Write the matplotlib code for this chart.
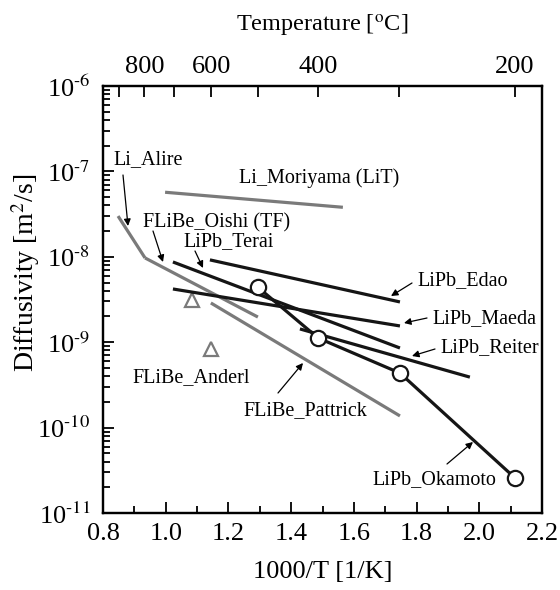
import matplotlib
matplotlib.use("Agg")
import matplotlib.pyplot as plt
from matplotlib.ticker import LogLocator, NullFormatter, MultipleLocator

plt.rcParams['font.family'] = ['Liberation Serif', 'DejaVu Serif']
plt.rcParams['mathtext.fontset'] = 'stix'

# ---- data (x = 1000/T [1/K], y = diffusivity [m2/s]) ----
alire_x = [0.848, 0.934]
alire_y = [3.0e-8, 9.7e-9]
oishi_x = [0.934, 1.294]
oishi_y = [9.7e-9, 1.97e-9]
moriyama_x = [0.998, 1.565]
moriyama_y = [5.7e-8, 3.8e-8]
pattrick_x = [1.144, 1.747]
pattrick_y = [2.88e-9, 1.37e-10]
anderl_x = [1.084, 1.144]
anderl_y = [3.1e-9, 8.3e-10]
edao_x = [1.141, 1.747]
edao_y = [9.2e-9, 2.96e-9]
terai_x = [1.023, 1.747]
terai_y = [8.7e-9, 8.55e-10]
maeda_x = [1.023, 1.747]
maeda_y = [4.2e-9, 1.55e-9]
reiter_x = [1.428, 1.970]
reiter_y = [1.43e-9, 3.9e-10]
okamoto_x = [1.294, 1.486, 1.747, 2.114]
okamoto_y = [4.4e-9, 1.12e-9, 4.35e-10, 2.57e-11]

x_ticks = [0.8, 1.0, 1.2, 1.4, 1.6, 1.8, 2.0, 2.2]
y_exponents = [-11, -10, -9, -8, -7, -6]
temps_major = [800, 600, 400, 200]
temps_minor = [900, 700, 500, 300]

BLACK = '#151515'
GRAY = '#7a7a7a'
W, H = 560, 590

fig = plt.figure(figsize=(W / 100, H / 100), dpi=100)
ax = fig.add_axes([103 / W, 1 - 513 / H, (542 - 103) / W, (513 - 86) / H])

lw = 2.3
for xs, ys in [(alire_x, alire_y), (oishi_x, oishi_y),
               (moriyama_x, moriyama_y), (pattrick_x, pattrick_y)]:
    ax.plot(xs, ys, color=GRAY, lw=lw, solid_capstyle='butt')
ax.plot(anderl_x, anderl_y, ls='none', marker='^', ms=10, mfc='white',
        mec=GRAY, mew=1.6)
for xs, ys in [(edao_x, edao_y), (terai_x, terai_y), (maeda_x, maeda_y),
               (reiter_x, reiter_y)]:
    ax.plot(xs, ys, color=BLACK, lw=lw, solid_capstyle='butt')
ax.plot(okamoto_x, okamoto_y, color=BLACK, lw=lw, marker='o', ms=11,
        mfc='white', mec=BLACK, mew=1.6, zorder=5)

ax.set_yscale('log')
ax.set_xlim(0.8, 2.2)
ax.set_ylim(1e-11, 1e-6)

ax.set_xticks(x_ticks)
ax.set_xticklabels(['%.1f' % v for v in x_ticks])
ax.xaxis.set_minor_locator(MultipleLocator(0.1))
ax.set_yticks([10.0 ** e for e in y_exponents])
ax.set_yticklabels([r'10$^{\text{%d}}$' % e for e in y_exponents])
ax.yaxis.set_minor_locator(LogLocator(base=10, subs=range(2, 10), numticks=20))
ax.yaxis.set_minor_formatter(NullFormatter())

ax.tick_params(which='both', direction='in', top=False, right=False,
               labelsize=19, width=1.3)
ax.tick_params(axis='x', pad=7)
ax.tick_params(axis='y', pad=9)
ax.tick_params(which='major', length=8)
ax.tick_params(which='minor', length=5)
for s in ax.spines.values():
    s.set_linewidth(1.6)

ax.set_xlabel('1000/T [1/K]', fontsize=19, labelpad=12)
ax.set_ylabel(r'Diffusivity [m$^2$/s]', fontsize=20)
ax.yaxis.set_label_coords((42 - 103) / 439, (513 - 273) / 427)

# top temperature axis
ax2 = ax.twiny()
ax2.set_xlim(ax.get_xlim())
ax2.set_xticks([1000.0 / (t + 273.15) for t in temps_major])
ax2.set_xticklabels([str(t) for t in temps_major])
ax2.set_xticks([1000.0 / (t + 273.15) for t in temps_minor], minor=True)
ax2.tick_params(which='both', direction='in', length=8, width=1.3,
                labelsize=19, pad=6)
ax2.set_xlabel(r'Temperature [$^{\rm o}$C]', fontsize=17.5, labelpad=17)
for s in ax2.spines.values():
    s.set_linewidth(1.6)

# annotations (figure-pixel positions, y measured from top)
fs = 14.5
ap = dict(arrowstyle='-|>', color='k', lw=0.9, mutation_scale=10,
          shrinkA=0, shrinkB=0)


def fp(px, py):
    return (px, H - py)


labels = [
    ('Li_Alire', (113, 160), (123, 175), (128, 226)),
    ('Li_Moriyama (LiT)', (239, 178), None, None),
    ('FLiBe_Oishi (TF)', (143, 223), (153, 231), (163, 262)),
    ('LiPb_Terai', (183, 242), (195, 251), (203, 268)),
    ('LiPb_Edao', (417, 281), (412, 283), (391, 296)),
    ('LiPb_Maeda', (432, 319), (427, 318), (404, 323)),
    ('LiPb_Reiter', (440, 348), (435, 349), (412, 356)),
    ('LiPb_Okamoto', (372, 480), (447, 464), (473, 442)),
    ('FLiBe_Pattrick', (243, 411), (278, 393), (303, 363)),
    ('FLiBe_Anderl', (132, 378), None, None),
]
for txt, tpos, a0, a1 in labels:
    fig.text(tpos[0] / W, 1 - tpos[1] / H, txt, fontsize=fs,
             ha='left', va='center')
    if a0 is not None:
        ax.annotate('', xy=fp(*a1), xycoords='figure pixels',
                    xytext=fp(*a0), textcoords='figure pixels',
                    arrowprops=ap)

fig.savefig('out.png', dpi=100)
